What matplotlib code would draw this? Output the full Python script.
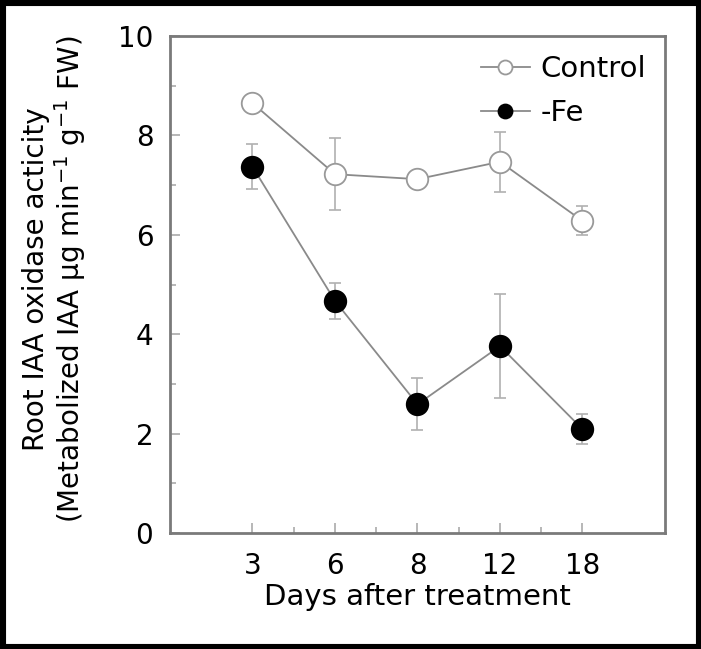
import matplotlib
matplotlib.use("Agg")
import matplotlib.pyplot as plt
from matplotlib.patches import Rectangle
from matplotlib.ticker import MultipleLocator, FixedLocator

plt.rcParams['font.family'] = ['DejaVu Sans']

days = ['3', '6', '8', '12', '18']
control = [8.65, 7.22, 7.12, 7.47, 6.28]
control_err = [0.1, 0.73, 0.1, 0.6, 0.29]
fe = [7.37, 4.67, 2.59, 3.76, 2.09]
fe_err = [0.45, 0.36, 0.52, 1.04, 0.3]

pos = list(range(1, len(days) + 1))

fig = plt.figure(figsize=(7.01, 6.49), dpi=100)
ax = fig.add_axes([0.2425, 0.1787, 0.7061, 0.7658])

grey = '#8a8a8a'
ax.errorbar(pos, control, yerr=control_err, fmt='none', ecolor='#b0b0b0',
            elinewidth=1.2, capsize=4, capthick=1.2, zorder=1)
ax.errorbar(pos, fe, yerr=fe_err, fmt='none', ecolor='#b0b0b0',
            elinewidth=1.2, capsize=4, capthick=1.2, zorder=1)
ax.plot(pos, control, '-o', color=grey, lw=1.3, ms=15.5, mfc='white',
        mec='#999999', mew=1.3, label='Control', zorder=3)
ax.plot(pos, fe, '-o', color=grey, lw=1.3, ms=15.5, mfc='black',
        mec='black', mew=1.3, label='-Fe', zorder=3)

ax.set_xlim(0, 6)
ax.set_ylim(0, 10)
ax.set_xticks(pos)
ax.set_xticklabels(days)
ax.xaxis.set_minor_locator(FixedLocator([1.5, 2.5, 3.5, 4.5]))
ax.yaxis.set_major_locator(MultipleLocator(2))
ax.yaxis.set_minor_locator(MultipleLocator(1))
ax.tick_params(which='both', direction='in', color='#aaaaaa', labelsize=20,
               top=False, right=False)
ax.tick_params(axis='y', pad=12)
ax.tick_params(axis='x', pad=14)
ax.tick_params(which='major', length=7, width=1.2)
ax.tick_params(which='minor', length=4, width=1.2)
for s in ax.spines.values():
    s.set_color('#7a7a7a')
    s.set_linewidth(2)

ax.set_xlabel('Days after treatment', fontsize=21, labelpad=2)
ax.set_ylabel('Root IAA oxidase acticity\n(Metabolized IAA $\\mathregular{\\mu}$g min$^{\\mathregular{-1}}$ g$^{\\mathregular{-1}}$ FW)',
              fontsize=20, linespacing=1.1)
ax.yaxis.set_label_coords(-0.165, 0.51)

leg = ax.legend(loc='upper right', frameon=False, fontsize=21, handlelength=1.7,
                borderaxespad=0.25, labelspacing=0.55, handletextpad=0.35,
                markerscale=0.65)

fig.patches.append(Rectangle((0, 0), 1, 1, transform=fig.transFigure,
                             fill=False, edgecolor='black', linewidth=8))

fig.savefig('out.png', dpi=100)
